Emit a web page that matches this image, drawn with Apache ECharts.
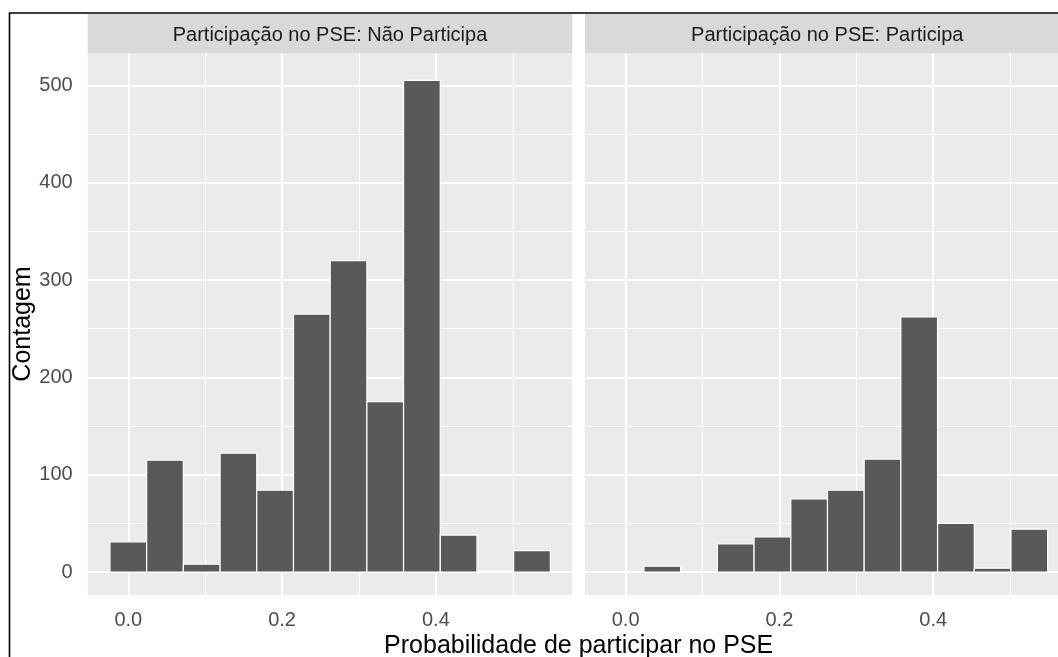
<!DOCTYPE html>
<html><head><meta charset="utf-8">
<script src="https://cdn.jsdelivr.net/npm/echarts@6/dist/echarts.min.js"></script>
<style>html,body{margin:0;padding:0;background:#fff}#c{width:1058px;height:657px}</style>
</head><body><div id="c"></div>
<script>
const facetLabels = ['Participação no PSE: Não Participa', 'Participação no PSE: Participa'];
const binCenters = [0, 0.0477, 0.0955, 0.1432, 0.1909, 0.2387, 0.2864, 0.3341, 0.3818, 0.4296, 0.4773, 0.5250];
const binWidth = 0.0477;
const countsNaoParticipa = [31, 115, 8, 122, 84, 265, 320, 175, 505, 38, 1, 22];
const countsParticipa = [0, 6, 0, 29, 36, 75, 84, 116, 262, 50, 4, 44];
const xTicks = [0, 0.2, 0.4];
const xMinorTicks = [0.1, 0.3, 0.5];
const yTicks = [0, 100, 200, 300, 400, 500];
const yMinorTicks = [50, 150, 250, 350, 450];
const yTitle = 'Contagem';
const xTitle = 'Probabilidade de participar no PSE';

const FONT = 'Liberation Sans, Arial, sans-serif';
const X_MIN = -0.0528, X_MAX = 0.5774;
const Y_MIN = -23.6, Y_MAX = 533.2;
const panels = [
  {left: 87.7, top: 53, width: 484.6, height: 542},
  {left: 585, top: 53, width: 484.6, height: 542}
];
const seriesCounts = [countsNaoParticipa, countsParticipa];

function renderBar(params, api) {
  const c = api.value(0), n = api.value(1);
  if (!n) return null;
  const p0 = api.coord([c - binWidth / 2, n]);
  const p1 = api.coord([c + binWidth / 2, 0]);
  return {
    type: 'rect',
    shape: {x: p0[0], y: p0[1], width: p1[0] - p0[0], height: p1[1] - p0[1]},
    style: {fill: '#595959', stroke: '#ffffff', lineWidth: 1.2}
  };
}

const grids = panels.map(p => ({
  left: p.left, top: p.top, width: p.width, height: p.height,
  show: true, backgroundColor: '#EBEBEB', borderWidth: 0,
  containLabel: false, outerBoundsMode: 'none'
}));

const xAxes = panels.map((p, i) => ({
  type: 'value', gridIndex: i, min: X_MIN, max: X_MAX,
  splitLine: {show: false}, axisLine: {show: false},
  axisTick: {show: true, customValues: xTicks, length: 6, lineStyle: {color: '#333333', width: 1.5}},
  axisLabel: {show: true, customValues: xTicks, formatter: v => v.toFixed(1),
    color: '#4D4D4D', fontSize: 20, fontFamily: FONT, margin: 15}
}));

const yAxes = panels.map((p, i) => ({
  type: 'value', gridIndex: i, min: Y_MIN, max: Y_MAX,
  splitLine: {show: false}, axisLine: {show: false},
  axisTick: {show: i === 0, customValues: yTicks, length: 6, lineStyle: {color: '#333333', width: 1.5}},
  axisLabel: {show: i === 0, customValues: yTicks, color: '#4D4D4D', fontSize: 20, fontFamily: FONT, margin: 15}
}));

const gridLineData = [].concat(
  xMinorTicks.map(v => ({xAxis: v, lineStyle: {color: '#ffffff', width: 1.1, type: 'solid'}})),
  yMinorTicks.map(v => ({yAxis: v, lineStyle: {color: '#ffffff', width: 1.1, type: 'solid'}})),
  xTicks.map(v => ({xAxis: v, lineStyle: {color: '#ffffff', width: 2.1, type: 'solid'}})),
  yTicks.map(v => ({yAxis: v, lineStyle: {color: '#ffffff', width: 2.1, type: 'solid'}}))
);

const series = [];
panels.forEach((p, i) => {
  series.push({
    type: 'line', xAxisIndex: i, yAxisIndex: i, data: [], z: 1, silent: true,
    markLine: {silent: true, z: 1, zlevel: 0, symbol: ['none', 'none'], label: {show: false}, animation: false,
      data: gridLineData}
  });
  series.push({
    type: 'custom', xAxisIndex: i, yAxisIndex: i, z: 20, silent: true,
    renderItem: renderBar,
    encode: {x: 0, y: 1},
    data: binCenters.map((c, k) => [c, seriesCounts[i][k]])
  });
});

const graphics = [
  {type: 'rect', shape: {x: 9.5, y: 13, width: 1100, height: 700}, style: {fill: 'none', stroke: '#000', lineWidth: 1.6}, z: 100}
];
panels.forEach((p, i) => {
  graphics.push({type: 'rect', shape: {x: p.left, y: 14, width: p.width, height: 39}, style: {fill: '#D9D9D9'}, z: 10});
  graphics.push({type: 'text', x: p.left + p.width / 2, y: 35, style: {text: facetLabels[i], font: '20px ' + FONT, fill: '#1A1A1A', textAlign: 'center', textVerticalAlign: 'middle'}, z: 11});
});
graphics.push({type: 'text', x: (panels[0].left + panels[1].left + panels[1].width) / 2, y: 646,
  style: {text: xTitle, font: '25px ' + FONT, fill: '#000', textAlign: 'center', textVerticalAlign: 'middle'}, z: 11});
graphics.push({type: 'text', x: 23, y: 324, rotation: Math.PI / 2,
  style: {text: yTitle, font: '25px ' + FONT, fill: '#000', textAlign: 'center', textVerticalAlign: 'middle'}, z: 11});

const chart = echarts.init(document.getElementById('c'), null, {renderer: 'canvas'});
chart.setOption({
  animation: false,
  backgroundColor: '#ffffff',
  grid: grids,
  xAxis: xAxes,
  yAxis: yAxes,
  series: series,
  graphic: graphics
});
</script></body></html>
